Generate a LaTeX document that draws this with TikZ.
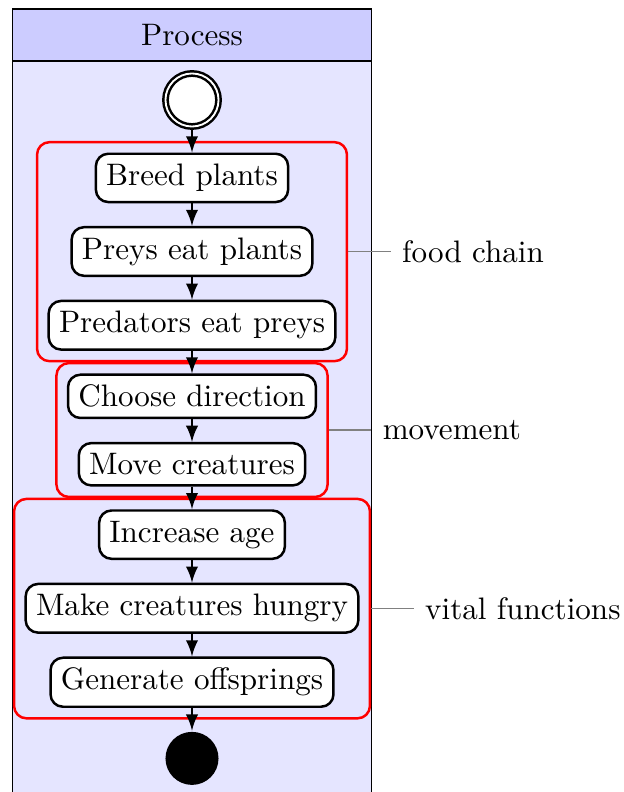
\documentclass[tikz,border=0pt]{standalone}
\usetikzlibrary{arrows,shapes,positioning,fit,backgrounds}

\begin{document}
\begin{tikzpicture}
            [->,>=latex,thick,node distance=0.256cm,
             action/.style={rectangle,rounded corners,draw,fill=white},
             group/.style={draw=red,rounded corners},
             note/.style={-,gray,thin}]

            \useasboundingbox (-2.172,1.131) rectangle (4.876,-7.828);

            \node (start) [circle,draw,double,fill=white,minimum size=0.6cm] at (0,0) {};
            \node (breed) [action,below=0.28cm of start] {Breed plants};
            \node (preys) [action,below=of breed] {Preys eat plants};
            \node (predators) [action,below=of preys] {Predators eat preys};
            \node (direction) [action,below=of predators] {Choose direction};
            \node (creatures) [action,below=of direction] {Move creatures};
            \node (age) [action,below=of creatures] {Increase age};
            \node (hungry) [action,below=of age] {Make creatures hungry};
            \node (offspring) [action,below=of hungry] {Generate offsprings};
            \node (end) [circle,fill=black,minimum size=0.6cm,below=of offspring] {};

            % groups of steps
            \node (food) [group,fit=(breed)(preys)(predators)] {};
            \node (move) [group,fit=(direction)(creatures)] {};
            \node (vital) [group,fit=(age)(hungry)(offspring)] {};

            \node (foodlbl) [right=0.48cm of food] {food chain};
            \node (movelbl) [right=0.48cm of move] {movement};
            \node (vitallbl) [right=0.48cm of vital] {vital functions};

            \draw[note] (food) -- (foodlbl);
            \draw[note] (move) -- (movelbl);
            \draw[note] (vital) -- (vitallbl);

            \path (start) edge (breed);
            \path (breed) edge (preys);
            \path (preys) edge (predators);
            \path (predators) edge (direction);
            \path (direction) edge (creatures);
            \path (creatures) edge (age);
            \path (age) edge (hungry);
            \path (hungry) edge (offspring);
            \path (offspring) edge (end);

            % swimlane
            \coordinate (headtop) at (0,1.029);
            \coordinate (headbot) at (0,0.441);
            \coordinate (lanebot) at (0,-8.2);
            \begin{scope}[on background layer]
              \draw[-,thin,fill=blue!20] (vital.west |- headtop) rectangle (vital.east |- headbot);
              \draw[-,thin,fill=blue!10] (vital.west |- headbot) rectangle (vital.east |- lanebot);
            \end{scope}
            \node (process) at (0,0.735) {Process};
        \end{tikzpicture}
\end{document}
